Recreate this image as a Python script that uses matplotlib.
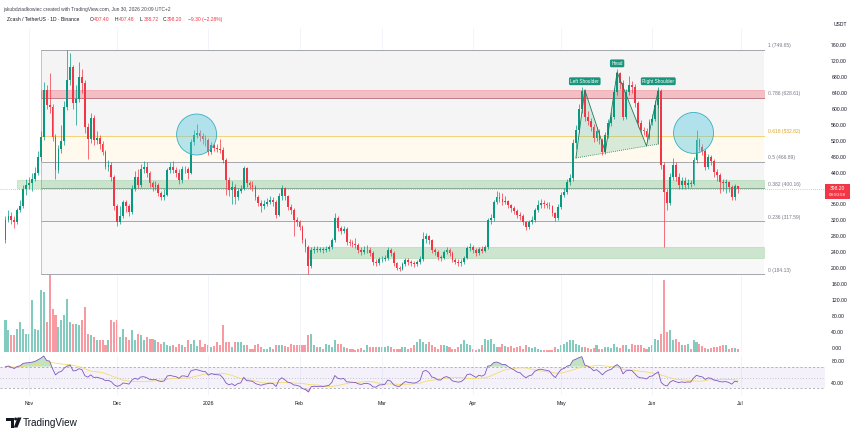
import numpy as np
import pandas as pd
import matplotlib
matplotlib.use("Agg")
import matplotlib.pyplot as plt
from matplotlib.patches import Ellipse, Polygon, Rectangle

plt.rcParams['font.family'] = ['Liberation Sans', 'DejaVu Sans']

W, H = 860, 437

# --- data (ZEC/USDT daily) ---
start = pd.Timestamp("2025-10-24")
dates = pd.date_range(start, "2026-06-30", freq="D")
first_open = 270.0
closes = [
    320, 332, 322, 315, 345, 355, 400, 410, 415, 425, 440, 480, 530, 648, 610, 605, 530, 446, 500, 520,
    605, 672, 705, 615, 625, 680, 665, 555, 525, 578, 523, 528, 512, 492, 455, 460, 430, 355, 315, 330,
    365, 355, 340, 400, 430, 410, 450, 455, 440, 413, 405, 410, 388, 378, 385, 446, 454, 446, 440, 421,
    450, 448, 440, 517, 535, 540, 532, 525, 522, 492, 510, 502, 500, 498, 472, 421, 396, 405, 378, 395,
    400, 451, 413, 410, 405, 378, 363, 355, 362, 366, 370, 365, 333, 380, 401, 380, 353, 345, 320, 315,
    303, 270, 252, 205, 245, 248, 246, 247, 245, 248, 252, 270, 325, 300, 293, 298, 265, 262, 260, 258,
    245, 240, 245, 246, 238, 215, 212, 222, 223, 225, 245, 238, 212, 200, 198, 210, 220, 215, 212, 210,
    214, 222, 272, 280, 270, 245, 240, 227, 226, 240, 245, 238, 220, 216, 212, 215, 225, 250, 253, 245,
    237, 248, 244, 252, 320, 325, 366, 378, 373, 366, 368, 358, 350, 343, 333, 330, 315, 303, 315, 320,
    345, 358, 363, 360, 358, 355, 338, 325, 353, 383, 391, 416, 426, 514, 547, 600, 645, 580, 570, 555,
    527, 545, 522, 492, 535, 565, 580, 643, 690, 665, 580, 643, 660, 655, 615, 565, 547, 545, 530, 567,
    575, 610, 645, 459, 391, 363, 429, 459, 430, 408, 420, 408, 415, 411, 472, 522, 505, 495, 454, 479,
    470, 441, 433, 416, 413, 416, 403, 378, 407.4, 398.2,
]
highs = [
    330, 345, 340, 330, 352, 372, 410, 425, 430, 440, 455, 495, 545, 668, 660, 690, 612, 538, 510, 560,
    620, 749.65, 742, 712, 660, 718, 700, 672, 565, 590, 585, 545, 535, 520, 498, 472, 468, 435, 362, 355,
    372, 372, 362, 408, 445, 450, 462, 470, 468, 445, 420, 420, 415, 395, 398, 452, 468, 470, 455, 448,
    456, 458, 455, 525, 548, 562, 548, 540, 535, 528, 518, 515, 512, 525, 505, 478, 428, 418, 412, 402,
    410, 458, 455, 420, 418, 410, 385, 370, 372, 375, 382, 378, 370, 388, 410, 405, 385, 360, 350, 328,
    322, 308, 275, 258, 252, 256, 255, 254, 252, 255, 258, 276, 338, 330, 305, 306, 302, 272, 270, 275,
    262, 252, 255, 258, 252, 242, 222, 228, 230, 232, 252, 250, 242, 216, 206, 216, 226, 225, 220, 218,
    220, 230, 290, 288, 284, 274, 250, 245, 234, 246, 252, 250, 242, 226, 222, 222, 230, 256, 262, 258,
    250, 254, 255, 258, 326, 335, 372, 395, 392, 388, 380, 372, 362, 356, 348, 340, 335, 318, 322, 330,
    352, 370, 374, 370, 366, 365, 358, 342, 360, 392, 402, 424, 436, 525, 560, 612, 655, 650, 595, 578,
    562, 555, 550, 528, 542, 575, 592, 652, 700, 694, 672, 650, 682, 670, 662, 620, 572, 556, 552, 575,
    588, 622, 655, 650, 468, 398, 438, 478, 466, 438, 430, 428, 425, 422, 480, 547, 528, 512, 500, 488,
    484, 475, 448, 438, 425, 425, 420, 408, 412, 407.48,
]
lows = [
    262, 315, 312, 300, 310, 340, 350, 385, 398, 395, 418, 435, 470, 522, 600, 590, 520, 425, 440, 490,
    510, 598, 660, 600, 560, 618, 640, 540, 475, 515, 510, 512, 500, 485, 448, 445, 420, 345, 305, 310,
    325, 340, 332, 335, 395, 402, 405, 440, 430, 405, 395, 396, 380, 370, 372, 380, 440, 438, 430, 412,
    415, 440, 425, 436, 510, 528, 520, 512, 508, 485, 488, 495, 492, 490, 465, 385, 382, 362, 360, 372,
    390, 396, 405, 400, 395, 370, 355, 340, 348, 355, 360, 355, 325, 330, 372, 372, 345, 335, 280, 305,
    295, 262, 240, 184.13, 200, 238, 240, 240, 238, 240, 242, 248, 265, 292, 285, 288, 258, 255, 252, 250,
    238, 232, 235, 238, 230, 208, 205, 208, 215, 218, 220, 230, 205, 194, 192, 195, 205, 208, 205, 203,
    205, 210, 218, 262, 260, 238, 232, 220, 218, 222, 235, 230, 214, 210, 206, 206, 210, 222, 244, 238,
    230, 232, 238, 240, 248, 312, 318, 360, 365, 358, 360, 350, 342, 336, 326, 322, 308, 296, 298, 310,
    315, 340, 352, 352, 350, 348, 330, 318, 320, 348, 378, 386, 410, 420, 500, 540, 590, 570, 560, 545,
    518, 520, 512, 484, 488, 528, 558, 575, 635, 650, 572, 575, 635, 640, 605, 555, 538, 535, 520, 525,
    560, 570, 602, 450, 252, 345, 358, 422, 420, 398, 400, 400, 402, 404, 408, 465, 495, 485, 446, 450,
    460, 430, 420, 388, 395, 388, 392, 370, 372, 388.72,
]
volumes = [
    32, 22, 17, 17, 23, 30, 23, 18, 18, 52, 23, 22, 62, 60, 30, 82, 43, 37, 25, 32,
    37, 53, 30, 28, 28, 27, 32, 45, 18, 17, 15, 12, 12, 12, 7, 12, 32, 30, 32, 15,
    23, 15, 12, 22, 12, 18, 17, 12, 15, 13, 13, 12, 10, 8, 10, 7, 6, 7, 5, 8,
    7, 5, 12, 8, 12, 6, 12, 5, 8, 7, 5, 6, 10, 7, 27, 10, 10, 5, 10, 10,
    10, 7, 7, 3, 3, 7, 8, 5, 3, 3, 5, 3, 7, 7, 7, 6, 5, 8, 7, 7,
    7, 7, 7, 17, 18, 7, 5, 5, 3, 8, 7, 5, 12, 8, 8, 5, 4, 3, 3, 2,
    3, 4, 2, 7, 5, 5, 5, 5, 5, 5, 6, 5, 3, 3, 3, 5, 5, 3, 4, 7,
    10, 13, 10, 8, 10, 7, 5, 3, 7, 7, 6, 5, 3, 3, 5, 8, 12, 8, 7, 3,
    2, 3, 7, 13, 12, 13, 8, 5, 5, 8, 6, 5, 6, 4, 5, 6, 3, 7, 5, 4,
    5, 3, 2, 2, 2, 2, 2, 5, 3, 7, 8, 10, 12, 12, 8, 7, 5, 5, 4, 3,
    4, 7, 3, 3, 5, 5, 4, 8, 5, 4, 7, 7, 3, 8, 7, 7, 7, 4, 3, 5,
    7, 13, 12, 18, 72, 20, 22, 12, 13, 10, 7, 7, 8, 3, 12, 10, 8, 6, 4, 3,
    4, 5, 5, 6, 7, 7, 3, 4, 4, 3,
]

fib_ratios = ["1", "0.786", "0.618", "0.5", "0.382", "0.236", "0"]
fib_prices = [749.65, 628.61, 532.82, 466.89, 400.16, 317.59, 184.13]
fib_from, fib_to = "2025-11-05", "2026-07-09"

zone_from = ["2025-11-05", "2025-10-28", "2026-02-04"]
zone_low = [629, 400.5, 224.5]
zone_high = [648, 421, 253.5]
zone_kind = ["resistance", "support", "support"]

hs_dates = ["2026-05-06", "2026-05-09", "2026-05-16", "2026-05-20", "2026-05-30", "2026-06-03", "2026-06-03"]
hs_prices = [477, 648, 492, 693, 507, 648, 512]
hs_labels = {1: "Left Shoulder", 3: "Head", 5: "Right Shoulder"}

circle_dates = ["2025-12-28", "2026-06-15"]
circle_prices = [536, 540]

month_dates = ["2025-11-01", "2025-12-01", "2026-01-01", "2026-02-01", "2026-03-01",
               "2026-04-01", "2026-05-01", "2026-06-01", "2026-07-01"]
month_labels = ["Nov", "Dec", "2026", "Feb", "Mar", "Apr", "May", "Jun", "Jul"]

header1 = "jakubdziadkowiec created with TradingView.com, Jun 30, 2026 20:09 UTC+2"

# --- helpers ---
def day(d):
    return (pd.Timestamp(d) - start).days

def box(x0, y0, x1, y1):
    return [x0 / W, 1 - y1 / H, (x1 - x0) / W, (y1 - y0) / H]

def fpx(x, y):
    return x / W, 1 - y / H

GREEN, RED = "#089981", "#f23645"
TXT = "#131722"
XL = (-1.87, 278.7)

closes = np.array(closes, float)
highs = np.array(highs, float)
lows = np.array(lows, float)
volumes = np.array(volumes, float)
opens = np.r_[first_open, closes[:-1]]
n = len(closes)
x = np.arange(n)
up = closes >= opens
cols = np.where(up, GREEN, RED)

fig = plt.figure(figsize=(W / 100, H / 100), dpi=100)
fig.patch.set_facecolor("white")

# volume pane (drawn first, behind price)
vax = fig.add_axes(box(0, 28, 825, 352))
vax.bar(x, volumes, width=0.7, color=cols, alpha=0.5, linewidth=0)
vax.set_xlim(*XL)
vax.set_ylim(0, 324)
vax.axis("off")

ax = fig.add_axes(box(0, 28, 825, 352))
ax.patch.set_visible(False)
ax.set_xlim(*XL)
ax.set_ylim(-11.3, 804)

month_pos = [day(d) for d in month_dates]
for m in month_pos:
    ax.axvline(m, color="#f0f3fa", lw=0.6, zorder=0)

# fib retracement
f0, f1 = day(fib_from), day(fib_to)
band_cols = ["#f4f4f5", "#f5f5f6", "#fff9ee", "#f5f5f6", "#f5f5f6", "#f8f8f9"]
for k in range(len(fib_prices) - 1):
    ax.fill_between([f0, f1], fib_prices[k + 1], fib_prices[k], color=band_cols[k], lw=0, zorder=0.5)
for r, p in zip(fib_ratios, fib_prices):
    c = "#f5d27a" if r == "0.618" else "#a3a6ae"
    ax.plot([f0, f1], [p, p], color=c, lw=0.7, zorder=1)
    ax.annotate(f"{r} ({p:.2f})", (f1 + 1.2, p), xytext=(0, 1.2), textcoords="offset points",
                fontsize=3.6, va="bottom", ha="left",
                color="#e0a520" if r == "0.618" else "#787b86")
ax.plot([f0, f0], [fib_prices[-1], fib_prices[0]], color="#b8bbc2", lw=0.6, zorder=1)

# supply / demand zones
for zf, lo, hi, kind in zip(zone_from, zone_low, zone_high, zone_kind):
    fc = (0.95, 0.21, 0.27, 0.28) if kind == "resistance" else (0.30, 0.69, 0.31, 0.25)
    ec = (0.95, 0.21, 0.27, 0.35) if kind == "resistance" else (0.30, 0.69, 0.31, 0.3)
    ax.add_patch(Rectangle((day(zf), lo), f1 - day(zf), hi - lo, fc=fc, ec=ec, lw=0.5, zorder=1.2))

# current price line
ax.axhline(closes[-1], color=RED, lw=0.5, ls=(0, (1, 2)), alpha=0.7, zorder=1.3)

# head & shoulders
hx = [day(d) for d in hs_dates]
ax.add_patch(Polygon(list(zip(hx, hs_prices)), closed=True, fc=(0.30, 0.72, 0.55, 0.22), ec="none", zorder=1.4))
ax.plot(hx, hs_prices, color="#1f7a5c", lw=0.6, zorder=4)
ax.plot([hx[0], hx[-1]], [hs_prices[0], hs_prices[-1]], color="#1f7a5c", lw=0.6, ls=(0, (1, 1.5)), zorder=4)
for k, lab in hs_labels.items():
    ax.annotate(lab, (hx[k], hs_prices[k]), xytext=(0, 4.5), textcoords="offset points",
                ha="center", va="bottom", fontsize=3.4, color="white", zorder=6,
                bbox=dict(boxstyle="round,pad=0.3,rounding_size=0.3", fc="#18957a", ec="none"))

# candles
ax.vlines(x, lows, highs, colors=cols, lw=0.5, zorder=3)
body = np.maximum(np.abs(closes - opens), 1.5)
ax.bar(x, body, bottom=np.minimum(opens, closes), width=0.62, color=cols, lw=0, zorder=3.2)

# circles
for cd, cp in zip(circle_dates, circle_prices):
    ax.add_patch(Ellipse((day(cd), cp), 13.6, 103, fc=(0.33, 0.78, 0.86, 0.42),
                         ec="#3aaec3", lw=0.6, zorder=5))

# price scale
ticks = [t for t in range(0, 800, 40) if t != 400]
ax.set_yticks(ticks)
ax.set_yticklabels([f"{t:.2f}" for t in ticks])
ax.yaxis.tick_right()
ax.tick_params(axis="y", length=0, pad=4.5, labelsize=3.7, labelcolor=TXT)
ax.set_xticks([])
for s in ax.spines.values():
    s.set_visible(False)

# RSI pane
delta = np.diff(closes)
ag, al = 14.0, 6.0
rsi = [100 - 100 / (1 + ag / al)]
for d in delta:
    ag = (ag * 13 + max(d, 0)) / 14
    al = (al * 13 + max(-d, 0)) / 14
    rsi.append(100 - 100 / (1 + ag / al))
rsi = np.array(rsi)
rsi_ma = pd.Series(rsi).rolling(14, min_periods=1).mean().values

rax = fig.add_axes(box(0, 355, 825, 395))
rax.set_xlim(*XL)
rax.set_ylim(17.6, 91.7)
rax.axhspan(30, 70, color="#7e57c2", alpha=0.08, lw=0)
for lvl, ls in [(70, (0, (3, 3))), (50, (0, (1, 3))), (30, (0, (3, 3)))]:
    rax.axhline(lvl, color="#9598a1", lw=0.5, ls=ls)
for m in month_pos:
    rax.axvline(m, color="#f0f3fa", lw=0.6, zorder=0)
rax.fill_between(x, rsi, 70, where=rsi > 70, color="#4caf50", alpha=0.35, lw=0, interpolate=True)
rax.fill_between(x, rsi, 30, where=rsi < 30, color=RED, alpha=0.3, lw=0, interpolate=True)
rax.plot(x, rsi_ma, color="#f3dc6c", lw=0.6)
rax.plot(x, rsi, color="#7e57c2", lw=0.6)
rax.set_yticks([40, 80])
rax.set_yticklabels(["40.00", "80.00"])
rax.yaxis.tick_right()
rax.tick_params(axis="y", length=0, pad=4.5, labelsize=3.7, labelcolor=TXT)
rax.set_xticks(month_pos)
rax.set_xticklabels(month_labels)
rax.tick_params(axis="x", length=0, pad=4, labelsize=3.7, labelcolor=TXT)
for s in rax.spines.values():
    s.set_visible(False)

# header
fig.text(*fpx(3, 9), header1, fontsize=3.5, color="#434651", va="center")
fig.text(*fpx(7, 19.5), "Zcash / TetherUS · 1D · Binance", fontsize=3.6, color=TXT, va="center")
for lx, letter, val in [(90, "O", "407.40"), (115, "H", "407.48"), (139.5, "L", "388.72"), (163, "C", "398.20")]:
    fig.text(*fpx(lx, 19.5), letter, fontsize=3.6, color=TXT, va="center")
    fig.text(*fpx(lx + 4, 19.5), val, fontsize=3.6, color=RED, va="center")
fig.text(*fpx(188, 19.5), "\u22129.30 (\u22122.28%)", fontsize=3.6, color=RED, va="center")
fig.text(*fpx(834, 24.5), "USDT", fontsize=3.6, color=TXT, va="center")

# last price tag
fig.patches.append(Rectangle(fpx(825, 199), 25 / W, 15 / H, transform=fig.transFigure,
                             fc=RED, ec="none", figure=fig))
fig.text(*fpx(837.5, 188.5), f"{closes[-1]:.2f}", fontsize=3.6, color="white", ha="center", va="center")
fig.text(*fpx(837.5, 195), "09:50:58", fontsize=3.2, color="white", ha="center", va="center")

# TradingView mark
fig.patches.append(Polygon([fpx(6, 417.5), fpx(13.5, 417.5), fpx(13.5, 427.5), fpx(10.5, 427.5),
                            fpx(10.5, 420.5), fpx(6, 420.5)], closed=True, transform=fig.transFigure,
                           fc=TXT, ec="none", figure=fig))
fig.patches.append(Ellipse(fpx(15.6, 419), 3 / W, 3 / H, transform=fig.transFigure,
                           fc=TXT, ec="none", figure=fig))
fig.patches.append(Polygon([fpx(17.5, 417.5), fpx(21.5, 417.5), fpx(17.5, 427.5), fpx(13.8, 427.5)],
                           closed=True, transform=fig.transFigure, fc=TXT, ec="none", figure=fig))
fig.text(*fpx(23, 422.5), "TradingView", fontsize=7.2, color=TXT, va="center", fontweight="medium")

fig.savefig("out.png", dpi=100)
